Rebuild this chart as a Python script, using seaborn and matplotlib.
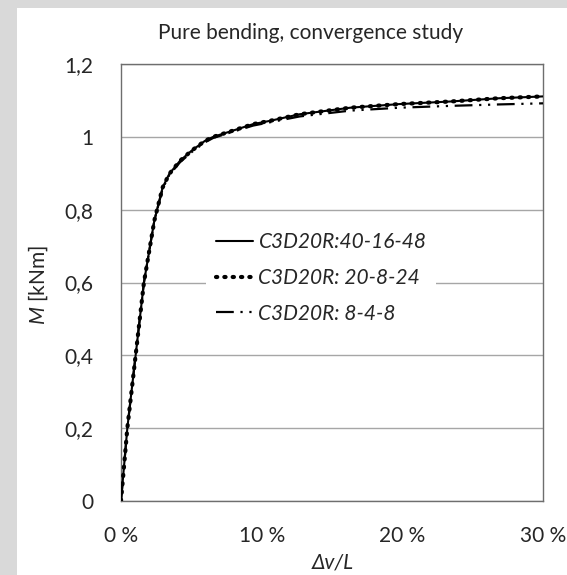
import matplotlib
matplotlib.use("Agg")
import matplotlib.pyplot as plt
import seaborn as sns
import pandas as pd
from matplotlib.patches import Rectangle

# ---- data ----
dv_fine = [0, 0.45, 1.04, 1.63, 2.37, 2.96, 3.43, 4.19, 5.02, 5.97, 6.56, 7.87,
           9.4, 10.6, 12.7, 16.3, 19.8, 23.4, 26.9, 30.0]
m_fine = [0, 0.20, 0.40, 0.60, 0.77, 0.861, 0.898, 0.934, 0.962, 0.989, 1.000,
          1.016, 1.035, 1.044, 1.062, 1.080, 1.090, 1.097, 1.106, 1.111]

dv_mid = [0, 0.45, 1.04, 1.63, 2.37, 2.96, 3.43, 4.19, 5.02, 5.97, 6.56, 7.87,
          9.4, 10.6, 12.7, 16.3, 19.8, 23.4, 26.9, 30.0]
m_mid = [0, 0.20, 0.40, 0.60, 0.77, 0.861, 0.898, 0.934, 0.962, 0.989, 1.000,
         1.016, 1.035, 1.044, 1.062, 1.080, 1.090, 1.097, 1.106, 1.111]

dv_coarse = [0, 0.45, 1.04, 1.63, 2.37, 2.96, 3.43, 4.19, 5.02, 5.97, 6.56, 7.87,
             9.4, 10.6, 12.7, 16.3, 19.8, 23.4, 26.9, 30.0]
m_coarse = [0, 0.20, 0.40, 0.60, 0.77, 0.858, 0.895, 0.930, 0.958, 0.985, 0.997,
            1.013, 1.031, 1.040, 1.056, 1.072, 1.080, 1.085, 1.089, 1.092]

series_names = ["C3D20R:40-16-48", "C3D20R: 20-8-24", "C3D20R: 8-4-8"]
x_ticks = [0, 10, 20, 30]
x_tick_labels = ["0 %", "10 %", "20 %", "30 %"]
y_ticks = [0, 0.2, 0.4, 0.6, 0.8, 1.0, 1.2]
y_tick_labels = ["0", "0,2", "0,4", "0,6", "0,8", "1", "1,2"]
title = "Pure bending, convergence study"

# ---- styling ----
sns.set_style("white")
plt.rcParams["font.family"] = ["Lato", "DejaVu Sans"]
plt.rcParams["mathtext.fontset"] = "custom"
plt.rcParams["mathtext.it"] = "Lato:italic"
plt.rcParams["mathtext.rm"] = "Lato"

W, H = 567, 575
fig = plt.figure(figsize=(W / 100, H / 100), dpi=100)
fig.patch.set_facecolor("white")
# grey textured strips of the original slide background
fig.add_artist(Rectangle((0, 0), 17 / W, 1, transform=fig.transFigure,
                         facecolor="#d9d9d9", edgecolor="none", zorder=-10))
fig.add_artist(Rectangle((0, 1 - 8 / H), 1, 8 / H, transform=fig.transFigure,
                         facecolor="#d9d9d9", edgecolor="none", zorder=-10))

left, right, top, bottom = 121, 543, 64, 501
ax = fig.add_axes([left / W, 1 - bottom / H, (right - left) / W, (bottom - top) / H])

df1 = pd.DataFrame({"dv": dv_fine, "M": m_fine})
df2 = pd.DataFrame({"dv": dv_mid, "M": m_mid})
df3 = pd.DataFrame({"dv": dv_coarse, "M": m_coarse})

sns.lineplot(data=df3, x="dv", y="M", ax=ax, sort=False, estimator=None,
             color="black", linewidth=1.6, linestyle=(0, (8, 3, 1, 3, 1, 3)),
             label=series_names[2], zorder=3)
sns.lineplot(data=df1, x="dv", y="M", ax=ax, sort=False, estimator=None,
             color="black", linewidth=1.5, linestyle="-",
             label=series_names[0], zorder=4)
sns.lineplot(data=df2, x="dv", y="M", ax=ax, sort=False, estimator=None,
             color="black", linewidth=3.0, linestyle=(0, (0.3, 1.7)),
             label=series_names[1], zorder=5)
for ln in ax.get_lines():
    if ln.get_label() == series_names[1]:
        ln.set_dash_capstyle("round")

ax.set_xlim(0, 30)
ax.set_ylim(0, 1.2)
ax.set_xticks(x_ticks)
ax.set_xticklabels(x_tick_labels, fontsize=15)
ax.set_yticks(y_ticks)
ax.set_yticklabels(y_tick_labels, fontsize=15)
ax.tick_params(axis="both", length=0)
ax.tick_params(axis="y", pad=20)
ax.tick_params(axis="x", pad=18)
ax.yaxis.grid(True, color="#a6a6a6", linewidth=1.0)
ax.xaxis.grid(False)
for s in ax.spines.values():
    s.set_visible(True)
    s.set_color("#6e6e6e")
    s.set_linewidth(1.0)
ax.set_xlabel("")
ax.set_ylabel("")

fig.text(311 / W, 1 - 33 / H, title, ha="center", va="center", fontsize=15)
fig.text(333 / W, 1 - 563 / H, "Δv/L", ha="center", va="center", fontsize=15,
         style="italic", family=["Lato", "DejaVu Sans"])
fig.text(38 / W, 1 - 285 / H, r"$M$ [kNm]", ha="center", va="center",
         fontsize=15, rotation=90)

handles, labels = ax.get_legend_handles_labels()
order = [labels.index(n) for n in series_names]
leg = ax.legend([handles[i] for i in order], [labels[i] for i in order],
                loc="center left", bbox_to_anchor=(196 / W, 1 - 278 / H),
                bbox_transform=fig.transFigure, frameon=True, fancybox=False,
                framealpha=1, facecolor="white", edgecolor="none",
                prop={"size": 15, "style": "italic"}, handlelength=1.8,
                handletextpad=0.25, labelspacing=0.75, borderpad=0.45)

fig.savefig("out.png", dpi=100, facecolor=fig.get_facecolor())
